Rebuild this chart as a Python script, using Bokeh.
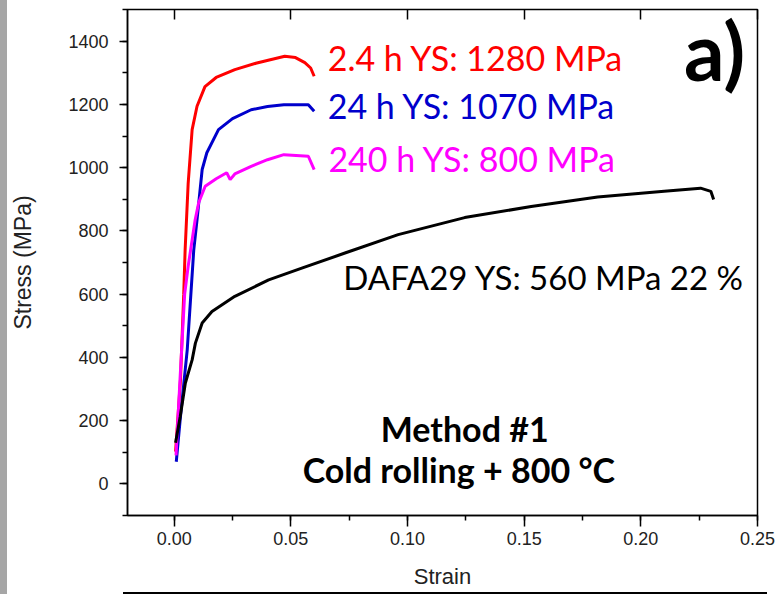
from bokeh.plotting import figure
from bokeh.models import (Range1d, LinearAxis, SingleIntervalTicker, PrintfTickFormatter,
                          CustomJSTickFormatter, Label, Div, Spacer)
from bokeh.layouts import row, column
from bokeh.embed import file_html
from bokeh.resources import INLINE

# ---- data ----
strain_24h_short = [0.0006, 0.0027, 0.0041, 0.0047, 0.0060, 0.0077, 0.0098, 0.0132, 0.018, 0.026,
                    0.035, 0.0474, 0.052, 0.056, 0.0585, 0.060]
stress_24h_short = [102, 329, 600, 740, 950, 1120, 1194, 1256, 1285, 1310,
                    1330, 1352, 1348, 1332, 1315, 1289]

strain_24h = [0.0009, 0.0027, 0.0056, 0.0070, 0.0084, 0.0098, 0.012, 0.014, 0.019, 0.025,
              0.033, 0.040, 0.047, 0.0575, 0.060]
stress_24h = [70, 213, 424, 582, 740, 835, 994, 1047, 1120, 1155,
              1183, 1193, 1199, 1199, 1178]

strain_240h = [0.0008, 0.0025, 0.0045, 0.0060, 0.009, 0.0105, 0.0133, 0.018, 0.0225, 0.024,
               0.026, 0.033, 0.040, 0.047, 0.0575, 0.060]
stress_240h = [90, 330, 600, 688, 835, 889, 941, 965, 984, 962,
               980, 1004, 1025, 1041, 1036, 994]

strain_dafa = [0.0006, 0.0026, 0.0048, 0.0077, 0.0091, 0.012, 0.0162, 0.026, 0.0405, 0.0547,
               0.0732, 0.096, 0.1245, 0.153, 0.1815, 0.210, 0.2256, 0.230, 0.2312]
stress_dafa = [130, 213, 319, 392, 445, 509, 545, 593, 645, 682,
               730, 788, 842, 877, 907, 925, 935, 925, 899]

series_labels = ["2.4 h  YS: 1280 MPa", "24 h  YS: 1070 MPa", "240 h YS: 800 MPa",
                 "DAFA29 YS: 560 MPa  22 %"]
series_colors = ["#ff0000", "#0000cc", "#ff00ff", "#000000"]

x_ticks_interval = 0.05
y_ticks_interval = 200

p = figure(width=768, height=592, output_backend="svg", toolbar_location=None,
           x_range=Range1d(-0.02, 0.25), y_range=Range1d(-100, 1500),
           min_border_left=119, min_border_right=18, min_border_top=9, min_border_bottom=77,
           background_fill_color="white", border_fill_color="white", margin=0)
p.grid.visible = False
p.outline_line_color = "black"
p.outline_line_width = 1.5

for xs, ys, c in zip([strain_24h_short, strain_24h, strain_240h, strain_dafa],
                     [stress_24h_short, stress_24h, stress_240h, stress_dafa], series_colors):
    p.line(xs, ys, line_color=c, line_width=3)

tick_font = "Liberation Sans"
xa = p.xaxis[0]
xa.ticker = SingleIntervalTicker(interval=x_ticks_interval, num_minor_ticks=2)
xa.formatter = PrintfTickFormatter(format="%.2f")
xa.axis_label = "Strain"
ya = p.yaxis[0]
ya.ticker = SingleIntervalTicker(interval=y_ticks_interval, num_minor_ticks=2)
ya.axis_label = "Stress (MPa)"

for ax, maj in ((xa, 11), (ya, 8)):
    ax.axis_line_color = "black"
    ax.axis_line_width = 1.5
    ax.major_tick_line_color = "black"
    ax.major_tick_line_width = 1.5
    ax.minor_tick_line_color = "black"
    ax.minor_tick_line_width = 1.5
    ax.major_tick_in = 0
    ax.major_tick_out = maj
    ax.minor_tick_in = 0
    ax.minor_tick_out = 5
    ax.major_label_text_font = tick_font
    ax.major_label_text_font_size = "18px"
    ax.major_label_text_color = "#222222"
    ax.axis_label_text_font = tick_font
    ax.axis_label_text_font_style = "normal"
    ax.axis_label_text_color = "#222222"
xa.major_label_standoff = 5
xa.axis_label_text_font_size = "22px"
xa.axis_label_standoff = 16
ya.major_label_standoff = 11
ya.axis_label_text_font_size = "23px"
ya.axis_label_standoff = 29

top = LinearAxis(ticker=SingleIntervalTicker(interval=x_ticks_interval, num_minor_ticks=0),
                 formatter=CustomJSTickFormatter(code="return ''"),
                 major_tick_in=10, major_tick_out=0, minor_tick_in=0, minor_tick_out=0,
                 major_label_text_font_size="2px", major_label_standoff=0,
                 axis_line_color=None, major_tick_line_color="black", major_tick_line_width=1.5)
p.add_layout(top, "above")

font = "Lato"
label_pos = [(0.0658, 1349), (0.0658, 1197), (0.0661, 1030), (0.0725, 654)]
label_size = ["34px", "34px", "34px", "33px"]
for (lx, ly), txt, c, s in zip(label_pos, series_labels, series_colors, label_size):
    p.add_layout(Label(x=lx, y=ly, text=txt, text_color=c, text_font=font,
                       text_font_size=s, text_baseline="alphabetic", text_align="left"))

p.add_layout(Label(x=0.1245, y=175, text="Method #1", text_font=font, text_font_style="bold",
                   text_font_size="34px", text_align="center", text_baseline="alphabetic",
                   text_color="black"))
p.add_layout(Label(x=0.122, y=44, text="Cold rolling + 800 \u00b0C", text_font=font,
                   text_font_style="bold", text_font_size="34px", text_align="center",
                   text_baseline="alphabetic", text_color="black"))
p.add_layout(Label(x=0.2185, y=1371, text="a)", text_font=font, text_font_style="bold",
                   text_font_size="80px", text_align="left", text_baseline="alphabetic",
                   text_color="black"))

gray = Div(width=7, height=594, margin=0, styles={"background-color": "#a6a6a6"})
line = Div(width=644, height=2, margin=0, styles={"background-color": "#000000"})
layout = row(gray, column(p, row(Spacer(width=116, height=2, margin=0), line, margin=0),
                          margin=0), margin=0)

open("out.html", "w").write(file_html(layout, INLINE))
